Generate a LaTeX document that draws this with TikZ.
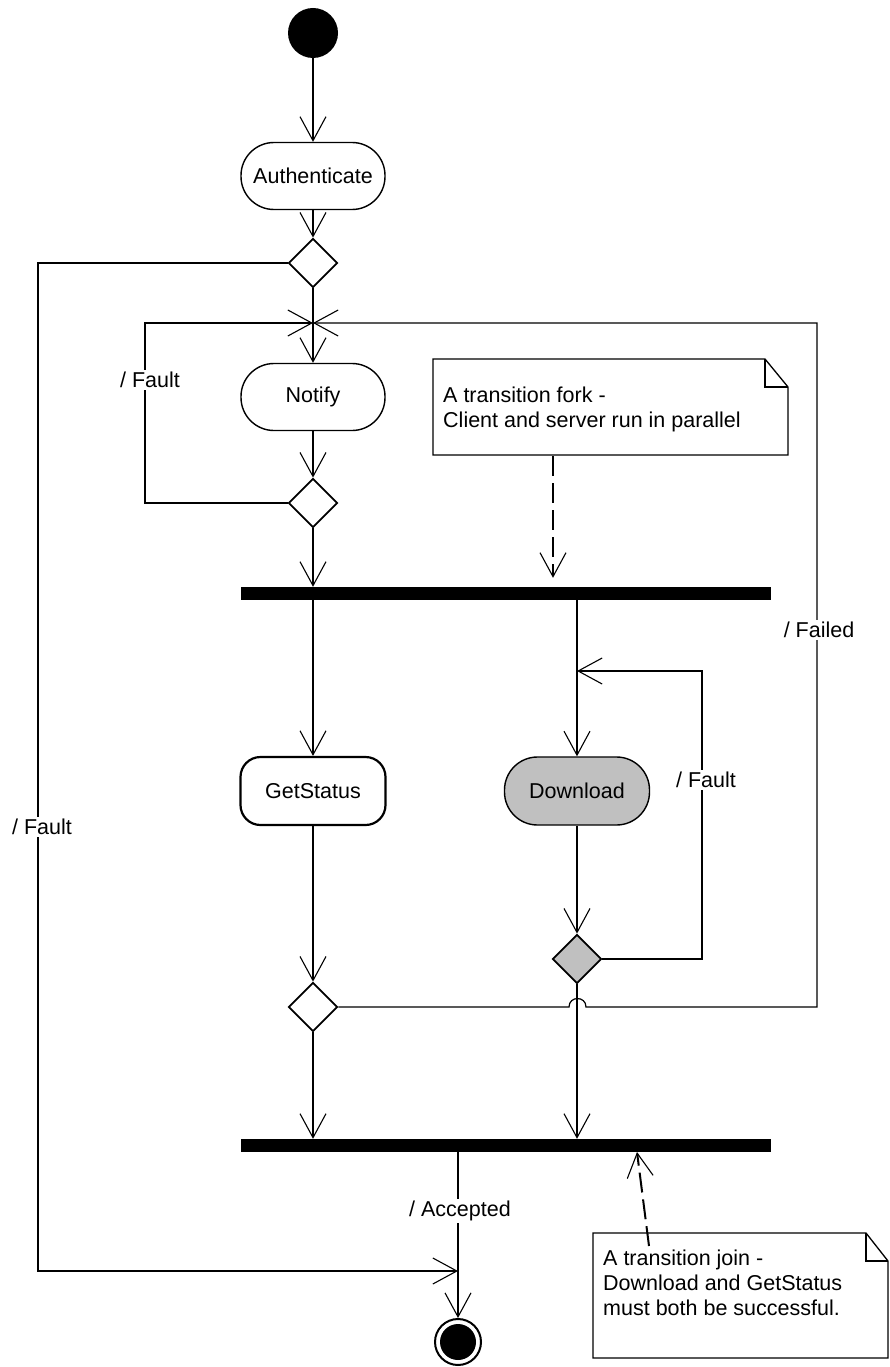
\documentclass[tikz,border=0pt]{standalone}
\usepackage{fontspec}
\setmainfont{Liberation Sans}
\usetikzlibrary{arrows.meta,shapes.geometric}
\definecolor{shade}{RGB}{192,192,192}
\begin{document}
\begin{tikzpicture}[x=1pt,y=-1pt,
  font=\fontsize{21.5}{25}\selectfont,
  >={Straight Barb[length=24pt,width=26pt,line width=1.1pt]},
  flow/.style={line width=1.2pt},
  link/.style={line width=2pt,dash pattern=on 20pt off 7pt},
  activity/.style={draw,line width=1.4pt,rounded corners=33pt,minimum width=144pt,minimum height=67pt,inner sep=0pt,fill=white},
  boxact/.style={draw,line width=2.2pt,rounded corners=20pt,minimum width=145pt,minimum height=68pt,inner sep=0pt,fill=white},
  choice/.style={diamond,draw,line width=1.8pt,minimum width=49pt,minimum height=49pt,inner sep=0pt,fill=white},
  syncbar/.style={fill=black,minimum width=530pt,minimum height=13pt,inner sep=0pt},
  lbl/.style={fill=white,inner sep=2pt},
  notetext/.style={anchor=west,inner sep=0pt,align=left},
  noteframe/.style={line width=1.3pt,fill=white}
]
\useasboundingbox (0,0) rectangle (889,1367);

% initial and final states
\node[circle,fill=black,minimum size=50pt,inner sep=0pt] (start) at (313,33) {};
\node[circle,draw,line width=2pt,minimum size=46pt,inner sep=0pt] (final) at (458,1342) {};
\fill (final.center) circle[radius=18pt];

% activities
\node[activity] (auth) at (313,176) {Authenticate};
\node[activity] (notify) at (313,397) {Notify};
\node[boxact] (status) at (313,791) {GetStatus};
\node[activity,fill=shade,minimum width=145pt,minimum height=68pt] (download) at (577,791) {Download};

% decisions
\node[choice] (d1) at (313,263) {};
\node[choice] (d2) at (313,503) {};
\node[choice] (d3) at (313,1007) {};
\node[choice,fill=shade] (dg) at (577,959) {};

% fork and join bars
\node[syncbar] (fork) at (506,593.5) {};
\node[syncbar] (join) at (506,1145.5) {};

% merge point above Notify, retry points
\coordinate (merge) at (313,323);
\coordinate (retry) at (577,671);
\coordinate (accin) at (458,1271);

% main flow
\draw[flow,->] (start.south) -- (auth.north);
\draw[flow,->] (auth.south) -- (d1.north);
\draw[flow] (d1.south) -- (merge);
\draw[flow,->] (merge) -- (notify.north);
\draw[flow,->] (notify.south) -- (d2.north);
\draw[flow,->] (d2.south) -- (d2.south |- fork.north);
\draw[flow,->] (fork.south -| status.north) -- (status.north);
\draw[flow] (fork.south -| download.north) -- (retry);
\draw[flow,->] (retry) -- (download.north);
\draw[flow,->] (status.south) -- (d3.north);
\draw[flow,->] (download.south) -- (dg.north);
\draw[flow,->] (d3.south) -- (d3.south |- join.north);
\draw[flow,->] (dg.south) -- (dg.south |- join.north);
\draw[flow] (join.south -| final.north) -- (accin);
\draw[flow,->] (accin) -- (final.north);

% loops back
\draw[flow,->] (d1.west) -- (38,263) -- (38,1271) -- (accin);
\draw[flow,->] (d2.west) -- (145,503) -- (145,323) -- (merge);
\draw[flow,->] (dg.east) -- (702,959) -- (702,671) -- (retry);
\draw[flow,->] (d3.east) -- (569,1007) .. controls (569,995.7) and (586,995.7) .. (586,1007)
  -- (817,1007) -- (817,323) -- (merge);

% guard labels
\node[lbl] at (42,827) {/ Fault};
\node[lbl] at (150,380) {/ Fault};
\node[lbl] at (706,780) {/ Fault};
\node[lbl] at (819,630) {/ Failed};
\node[lbl] at (460,1211) {/ Accepted};

% note on the fork
\path[noteframe,draw] (433,359) -- (765,359) -- (788,387) -- (788,455) -- (433,455) -- cycle;
\draw[line width=1.3pt] (765,359) -- (765,387) -- (788,387);
\node[notetext] (forknote) at (443,409) {A transition fork -\\Client and server run in parallel};
\coordinate (forkpin) at (553,456);
\draw[link,->,shorten >=9pt] (forkpin) -- (forkpin |- fork.north);

% note on the join
\path[noteframe,draw] (593,1233) -- (866,1233) -- (888,1261) -- (888,1358) -- (593,1358) -- cycle;
\draw[line width=1.3pt] (866,1233) -- (866,1261) -- (888,1261);
\node[notetext] (joinnote) at (603,1283) {A transition join -\\Download and GetStatus\\must both be successful.};
\coordinate (joinpin) at (649,1246);
\draw[link,->] (joinpin) -- (637,1152);
\end{tikzpicture}
\end{document}
